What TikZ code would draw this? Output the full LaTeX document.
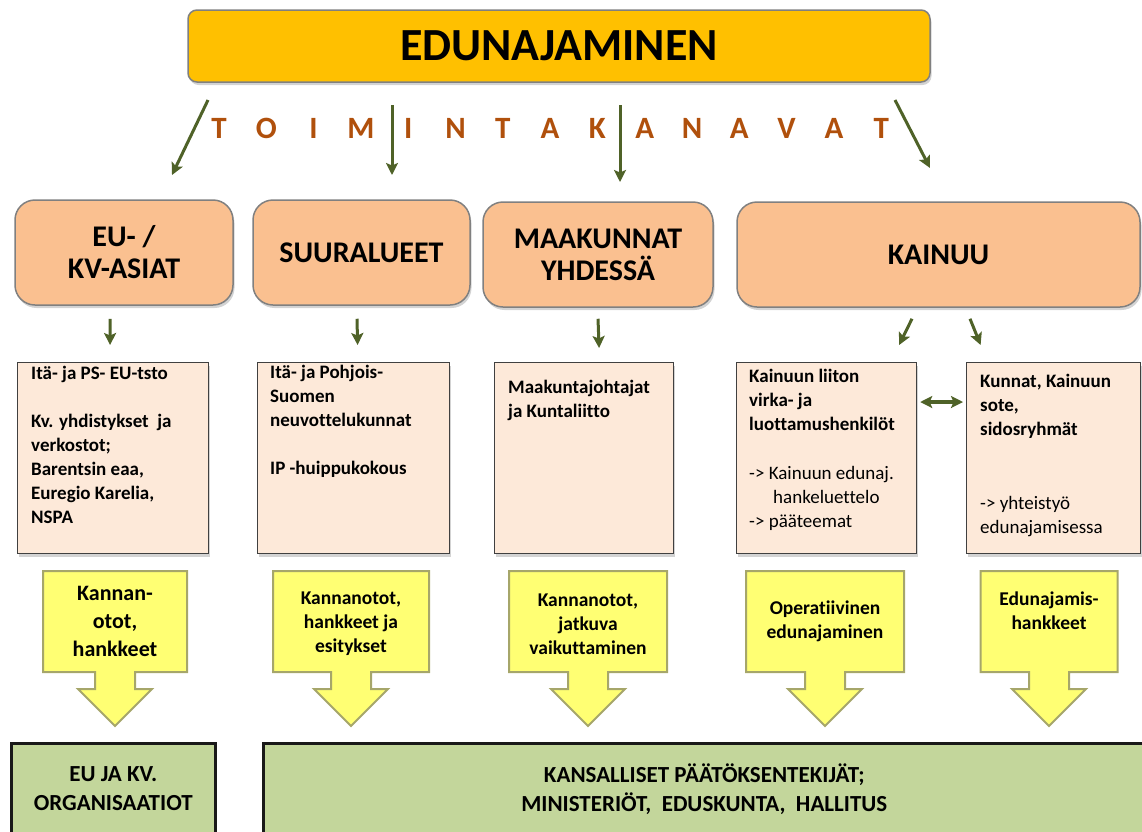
\documentclass[tikz,border=0pt]{standalone}
\usepackage{fontspec}
\setmainfont{Carlito}[Ligatures={NoCommon}]
\usetikzlibrary{arrows.meta}
\usetikzlibrary{positioning}
\usetikzlibrary{shadows}
\definecolor{edugold}{HTML}{FFC000}
\definecolor{channelfill}{HTML}{FAC090}
\definecolor{infofill}{HTML}{FDE9D9}
\definecolor{callfill}{HTML}{FFFF73}
\definecolor{callline}{HTML}{A6A66A}
\definecolor{goalfill}{HTML}{C3D69B}
\definecolor{flowgreen}{HTML}{4F6228}
\definecolor{kanavabrown}{RGB}{176,80,12}

\begin{document}
\begin{tikzpicture}[x=1pt,y=-1pt,>={Stealth[length=12pt,width=12pt,inset=2.5pt]},
		softshadow/.style={drop shadow={opacity=.35,shadow xshift=1.5pt,shadow yshift=-3pt}},
		titlebox/.style={draw=gray,fill=edugold,line width=1.5pt,rounded corners=9pt,minimum width=742pt,minimum height=72pt,font=\fontsize{46}{50}\selectfont\bfseries,softshadow},
		channel/.style={draw=gray,fill=channelfill,line width=1.5pt,rounded corners=20pt,minimum height=105pt,align=center,font=\fontsize{30}{32}\selectfont\bfseries,softshadow},
		infobox/.style={draw=darkgray,fill=infofill,line width=1.2pt,anchor=north west,minimum height=191pt,softshadow},
		infotext/.style={anchor=north west,align=left,inner sep=0pt,font=\fontsize{19}{24}\selectfont\bfseries},
		callout/.style={draw=callline,fill=callfill,line width=2pt,line join=miter},
		calltext/.style={align=center,font=\fontsize{19.5}{24}\selectfont\bfseries},
		goalbox/.style={draw=black!90,fill=goalfill,line width=2.5pt,anchor=north west,minimum height=91pt,align=center,font=\fontsize{23}{29}\selectfont\bfseries},
		kanava/.style={text=kanavabrown,font=\fontsize{31}{32}\selectfont\bfseries},
		flow/.style={->,draw=flowgreen,line width=3pt}]
		\useasboundingbox (0,0) rectangle (1142,831);

		\node[titlebox] (title) at (559,46) {EDUNAJAMINEN};
		\foreach \c [count=\i] in {T,O,I,M,I,N,T,A,K,A,N,A,V,A,T}
			\node[kanava] (k\i) at ({219+47.3*(\i-1)},128) {\c};

		\coordinate (ka1) at (208,100);
		\coordinate (kb1) at (172,175);
		\coordinate (ka2) at (392,105);
		\coordinate (kb2) at (392,175);
		\coordinate (ka3) at (620,105);
		\coordinate (kb3) at (620,182);
		\coordinate (ka4) at (895,100);
		\coordinate (kb4) at (930,168);
		\foreach \i in {1,...,4}
			\draw[flow] (ka\i) -- (kb\i);

		\node[channel,minimum width=218pt] (eu) at (124,252.5) {EU- /\\KV-ASIAT};
		\node[channel,minimum width=217pt] (sua) at (361.5,252.5) {SUURALUEET};
		\node[channel,minimum width=230pt] (maak) at (598,254.5) {MAAKUNNAT\\YHDESSÄ};
		\node[channel,minimum width=403pt] (kai) at (938.5,254.5) {KAINUU};

		\node[infobox,minimum width=191pt] (b1) at (17,362) {};
		\node[infobox,minimum width=192pt] (b2) at (257,362) {};
		\node[infobox,minimum width=179pt] (b3) at (494,362) {};
		\node[infobox,minimum width=180pt] (b4) at (736,362) {};
		\node[infobox,minimum width=174pt] (b5) at (966,362) {};

		\node[infotext] (t1) at (31,366) {Itä- ja PS- EU-tsto\\[24pt]Kv. yhdistykset\ \ ja\\verkostot;\\Barentsin eaa,\\Euregio Karelia,\\NSPA};
		\node[infotext] (t2) at (270,365) {Itä- ja Pohjois-\\Suomen\\neuvottelukunnat\\[24pt]IP -huippukokous};
		\node[infotext] (t3) at (508,380) {Maakuntajohtajat\\ja Kuntaliitto};
		\node[infotext] (t4) at (749,369) {Kainuun liiton\\virka- ja\\luottamushenkilöt\\[25pt]\mdseries -> Kainuun edunaj.\\\mdseries\hspace*{24pt}hankeluettelo\\\mdseries -> pääteemat};
		\node[infotext] (t5) at (980,374) {Kunnat, Kainuun\\sote,\\sidosryhmät\\[50pt]\mdseries -> yhteistyö\\\mdseries edunajamisessa};

		\draw[flow] ([shift={(-14,13)}]eu.south) -- ([shift={(-3,-17)}]b1.north);
		\draw[flow] ([shift={(-4.5,13)}]sua.south) -- ([shift={(4,-17)}]b2.north);
		\draw[flow] ([shift={(0,11)}]maak.south) -- ([shift={(15,-14)}]b3.north);
		\draw[flow] ([shift={(-26.5,11)}]kai.south) -- ([shift={(72.5,-17)}]b4.north);
		\draw[flow] ([shift={(31.5,11)}]kai.south) -- ([shift={(-73,-17)}]b5.north);
		\draw[flow,<->,line width=4.5pt] ([shift={(3,40)}]b4.north east) -- ([shift={(-3,40)}]b5.north west);

		\foreach \cx/\w in {115/144,351/156,588/158,825/158,1049/137}
			\draw[callout] ({\cx-\w/2},571) -- ({\cx+\w/2},571) -- ({\cx+\w/2},672) -- ({\cx+20},672) -- ({\cx+20},689) -- ({\cx+37},689) -- (\cx,726) -- ({\cx-37},689) -- ({\cx-20},689) -- ({\cx-20},672) -- ({\cx-\w/2},672) -- cycle;
		\node[calltext,font=\fontsize{22}{28}\selectfont\bfseries] (c1) at (115,621) {Kannan-\\otot,\\hankkeet};
		\node[calltext] (c2) at (351,624) {Kannanotot,\\hankkeet ja\\esitykset};
		\node[calltext] (c3) at (588,624) {Kannanotot,\\jatkuva\\vaikuttaminen};
		\node[calltext] (c4) at (825,621) {Operatiivinen\\edunajaminen};
		\node[calltext] (c5) at (1049,611) {Edunajamis-\\hankkeet};

		\node[goalbox,minimum width=204pt] (g1) at (10,742) {EU JA KV.\\ORGANISAATIOT};
		\node[goalbox,minimum width=882pt] (g2) at (262,742) {KANSALLISET PÄÄTÖKSENTEKIJÄT;\\MINISTERIÖT,\ \ EDUSKUNTA,\ \ HALLITUS};
		\end{tikzpicture}
\end{document}
